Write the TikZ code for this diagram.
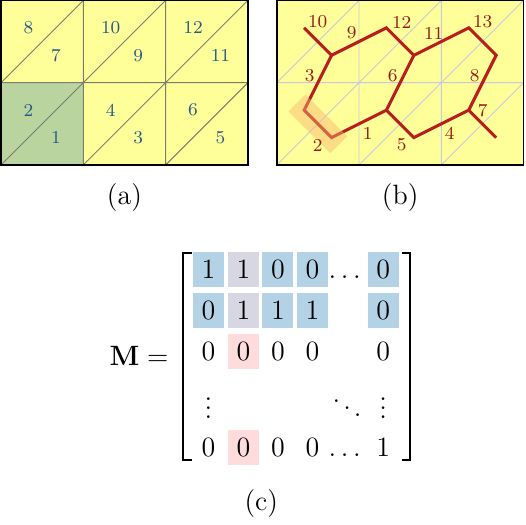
\documentclass[tikz,border=0pt]{standalone}
\usepackage{amsmath}

\definecolor{cellyellow}{RGB}{255,255,153}
\definecolor{cellgreen}{RGB}{186,212,160}
\definecolor{gridgray}{RGB}{125,125,110}
\definecolor{gridlav}{RGB}{200,200,225}
\definecolor{trinum}{RGB}{40,90,135}
\definecolor{dualred}{RGB}{185,30,30}
\definecolor{dualnum}{RGB}{150,25,25}
\definecolor{hlorange}{RGB}{250,180,110}
\definecolor{entryblue}{RGB}{180,210,230}
\definecolor{entrylav}{RGB}{215,215,228}
\definecolor{entrypink}{RGB}{255,220,220}

\tikzset{
    trilabel/.style = {text=trinum, font=\fontsize{7.8}{9}\selectfont},
    duallabel/.style = {text=dualnum, font=\fontsize{7.8}{9}\selectfont},
    dualedge/.style = {draw=dualred, line width=1.3pt},
    entry/.style = {inner sep=0pt, minimum width=13.3pt, minimum height=15pt,
        text height=7.8pt, text depth=0pt, font=\large},
    bluecell/.style = {entry, fill=entryblue},
    lavcell/.style = {entry, fill=entrylav},
    pinkcell/.style = {entry, fill=entrypink}
}

\begin{document}
\begin{tikzpicture}[x=35.32pt, y=35.32pt]
            \useasboundingbox (-0.012,-4.362) rectangle (6.379,2.005);
            % (a)
            \fill[cellyellow] (0,0) rectangle (3,2);
            \fill[cellgreen] (0,0) rectangle (1,1);
            \draw[gridgray, line width=0.4pt] (1,0) -- (1,2) (2,0) -- (2,2) (0,1) -- (3,1)
                (0,0) -- (2,2) (1,0) -- (3,2) (2,0) -- (3,1) (0,1) -- (1,2);
            \draw[line width=0.7pt] (0,0) rectangle (3,2);
            \node[trilabel] (a1) at (2/3,1/3) {1};
            \node[trilabel] (a2) at (1/3,2/3) {2};
            \node[trilabel] (a3) at (5/3,1/3) {3};
            \node[trilabel] (a4) at (4/3,2/3) {4};
            \node[trilabel] (a5) at (8/3,1/3) {5};
            \node[trilabel] (a6) at (7/3,2/3) {6};
            \node[trilabel] (a7) at (2/3,4/3) {7};
            \node[trilabel] (a8) at (1/3,5/3) {8};
            \node[trilabel] (a9) at (5/3,4/3) {9};
            \node[trilabel] (a10) at (4/3,5/3) {10};
            \node[trilabel] (a11) at (8/3,4/3) {11};
            \node[trilabel] (a12) at (7/3,5/3) {12};
            \node[font=\large] (capa) at (1.5,-0.395) {(a)};
            % (b)
            \begin{scope}[shift={(3.35,0)}]
            \fill[cellyellow] (0,0) rectangle (3,2);
            \draw[gridlav, line width=0.4pt] (1,0) -- (1,2) (2,0) -- (2,2) (0,1) -- (3,1)
                (0,0) -- (2,2) (1,0) -- (3,2) (2,0) -- (3,1) (0,1) -- (1,2);
            \draw[line width=0.7pt] (0,0) rectangle (3,2);
            \coordinate (t1) at (2/3,1/3);
            \coordinate (t2) at (1/3,2/3);
            \coordinate (t3) at (5/3,1/3);
            \coordinate (t4) at (4/3,2/3);
            \coordinate (t5) at (8/3,1/3);
            \coordinate (t6) at (7/3,2/3);
            \coordinate (t7) at (2/3,4/3);
            \coordinate (t8) at (1/3,5/3);
            \coordinate (t9) at (5/3,4/3);
            \coordinate (t10) at (4/3,5/3);
            \coordinate (t11) at (8/3,4/3);
            \coordinate (t12) at (7/3,5/3);
            \draw[dualedge] (t8) -- (t7) -- (t10) -- (t9) -- (t12) -- (t11) -- (t6) -- (t5);
            \draw[dualedge] (t6) -- (t3) -- (t4) -- (t9);
            \draw[dualedge] (t4) -- (t1) -- (t2) -- (t7);
            \node[
                rotate = -45,
                minimum width = 25.4pt,
                minimum height = 10.2pt,
                fill = hlorange,
                fill opacity = 0.45
            ] (hl) at (0.5,0.5) {};
            \node[duallabel] (e1) at (1.106,0.389) {1};
            \node[duallabel] (e2) at (0.498,0.243) {2};
            \node[duallabel] (e3) at (0.401,1.081) {3};
            \node[duallabel] (e4) at (2.102,0.389) {4};
            \node[duallabel] (e5) at (1.519,0.243) {5};
            \node[duallabel] (e6) at (1.409,1.081) {6};
            \node[duallabel] (e7) at (2.503,0.656) {7};
            \node[duallabel] (e8) at (2.406,1.081) {8};
            \node[duallabel] (e9) at (0.911,1.604) {9};
            \node[duallabel] (e10) at (0.498,1.738) {10};
            \node[duallabel] (e11) at (1.908,1.604) {11};
            \node[duallabel] (e12) at (1.519,1.738) {12};
            \node[duallabel] (e13) at (2.503,1.738) {13};
            \node[font=\large] (capb) at (1.5,-0.395) {(b)};
            \end{scope}
            % (c)
            \node[font=\large] (lhs) at (1.677,-2.32) {$\mathbf{M} =$};
            \draw[line width=0.8pt] (2.315,-1.069) -- (2.215,-1.069) -- (2.215,-3.584) -- (2.315,-3.584);
            \draw[line width=0.8pt] (4.870,-1.069) -- (4.970,-1.069) -- (4.970,-3.584) -- (4.870,-3.584);
            \node[bluecell] (m11) at (2.52,-1.27) {$1$};
            \node[lavcell] (m12) at (2.945,-1.27) {$1$};
            \node[bluecell] (m13) at (3.365,-1.27) {$0$};
            \node[bluecell] (m14) at (3.785,-1.27) {$0$};
            \node[entry] (m15) at (4.205,-1.27) {$\dots$};
            \node[bluecell] (m16) at (4.645,-1.27) {$0$};
            \node[bluecell] (m21) at (2.52,-1.77) {$0$};
            \node[lavcell] (m22) at (2.945,-1.77) {$1$};
            \node[bluecell] (m23) at (3.365,-1.77) {$1$};
            \node[bluecell] (m24) at (3.785,-1.77) {$1$};
            \node[bluecell] (m26) at (4.645,-1.77) {$0$};
            \node[entry] (m31) at (2.52,-2.27) {$0$};
            \node[pinkcell] (m32) at (2.945,-2.27) {$0$};
            \node[entry] (m33) at (3.365,-2.27) {$0$};
            \node[entry] (m34) at (3.785,-2.27) {$0$};
            \node[entry] (m36) at (4.645,-2.27) {$0$};
            \node[inner sep=0pt, font=\large] (m41) at (2.52,-2.87) {$\vdots$};
            \node[inner sep=0pt, font=\large] (m45) at (4.205,-2.87) {$\ddots$};
            \node[inner sep=0pt, font=\large] (m46) at (4.645,-2.87) {$\vdots$};
            \node[entry] (m51) at (2.52,-3.435) {$0$};
            \node[pinkcell] (m52) at (2.945,-3.435) {$0$};
            \node[entry] (m53) at (3.365,-3.435) {$0$};
            \node[entry] (m54) at (3.785,-3.435) {$0$};
            \node[entry] (m55) at (4.205,-3.435) {$\dots$};
            \node[entry] (m56) at (4.645,-3.435) {$1$};
            \node[font=\large] (capc) at (3.163,-4.119) {(c)};
        \end{tikzpicture}
\end{document}
